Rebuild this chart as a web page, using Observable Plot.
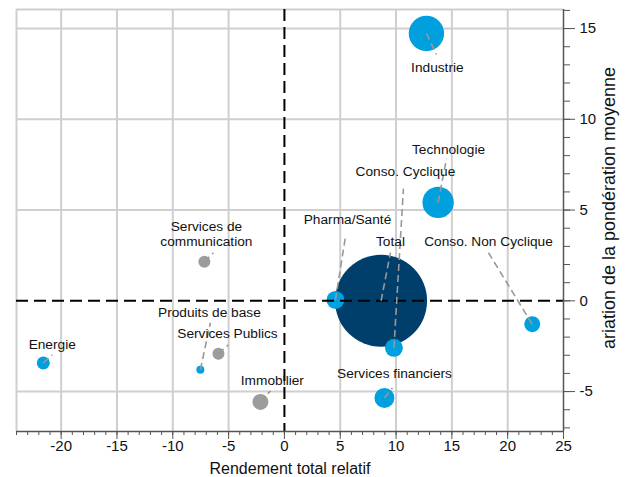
<!DOCTYPE html>
<html>
<head>
<meta charset="utf-8">
<script src="https://cdn.jsdelivr.net/npm/d3@7"></script>
<script src="https://cdn.jsdelivr.net/npm/@observablehq/plot@0.6"></script>
<style>
  html, body { margin: 0; padding: 0; background: #fff; }
  #chart svg { display: block; }
</style>
</head>
<body>
<div id="chart"></div>
<script>
// ---- Data ----
const sectors = ["Total", "Industrie", "Technologie", "Conso. Cyclique", "Pharma/Santé",
  "Conso. Non Cyclique", "Services financiers", "Services de\ncommunication",
  "Produits de base", "Services Publics", "Energie", "Immobilier"];
const rendement = [8.66, 12.72, 13.77, 9.81, 4.57, 22.2, 8.96, -7.17, -7.53, -5.91, -21.6, -2.15];
const variation = [0, 14.73, 5.42, -2.59, 0.05, -1.29, -5.35, 2.15, -3.8, -2.92, -3.42, -5.57];
const poids = [100, 14.8, 11.6, 3.8, 3.8, 3.0, 4.7, 1.7, 0.76, 1.7, 2.0, 3.0];
const groupe = ["total", "bleu", "bleu", "bleu", "bleu", "bleu", "bleu", "gris", "bleu", "gris", "bleu", "gris"];
// label anchor positions (data units)
const labelX = [9.5, 13.7, 14.7, 10.84, 5.65, 18.28, 9.86, -6.99, -6.72, -5.1, -20.8, -1.08];
const labelY = [3.31, 12.85, 8.38, 7.17, 4.52, 3.31, -3.97, 3.7, -0.61, -1.76, -2.37, -4.36];
// leader line ends near the labels (data units)
const leaderX = [9.5, 13.62, 14.52, 10.66, 5.47, 18.28, 9.68, -6.36, -6.63, -5.02, -20.79, -1.25];
const leaderY = [2.65, 13.57, 7.83, 6.18, 3.53, 2.65, -4.8, 2.65, -1.21, -2.43, -2.98, -4.96];

const xTitle = "Rendement total relatif";
const yTitle = "ariation de la pondération moyenne";

const xDomain = [-24, 25];
const yDomain = [-7.2, 16.05];
const xMajor = [-20, -15, -10, -5, 0, 5, 10, 15, 20, 25];
const yMajor = [-5, 0, 5, 10, 15];
const xGrid = [-20, -15, -10, -5, 5, 10, 15, 20];
const yGrid = [-5, 5, 10, 15];
const xMinor = d3.range(-24, 26, 1);
const yMinor = d3.range(-7, 17, 1);

const data = sectors.map((s, i) => ({
  secteur: s, rendement: rendement[i], variation: variation[i], poids: poids[i],
  groupe: groupe[i], lx: labelX[i], ly: labelY[i], ex: leaderX[i], ey: leaderY[i]
}));

const font = "'Liberation Sans', Arial, Helvetica, sans-serif";
const axisColor = "#555";

const W = 627, H = 477, mL = 16, mR = 64, mT = 9, mB = 46;

const chart = Plot.plot({
  width: W,
  height: H,
  marginLeft: mL,
  marginRight: mR,
  marginTop: mT,
  marginBottom: mB,
  style: { fontFamily: font, background: "#fff", overflow: "visible" },
  x: { domain: xDomain, axis: null },
  y: { domain: yDomain, axis: null },
  r: { type: "sqrt", domain: [0, 100], range: [0, 46] },
  color: { domain: ["total", "bleu", "gris"], range: ["#003F6B", "#00A0DF", "#9C9C9C"] },
  marks: [
    // grid
    Plot.ruleX(xGrid, { stroke: "#cfcfcf", strokeWidth: 2 }),
    Plot.ruleY(yGrid, { stroke: "#cfcfcf", strokeWidth: 2 }),
    // frame top/left
    Plot.ruleY([yDomain[1]], { stroke: "#cfcfcf", strokeWidth: 2 }),
    Plot.ruleX([xDomain[0]], { stroke: "#cfcfcf", strokeWidth: 2 }),
    // bubbles
    Plot.dot(data, { x: "rendement", y: "variation", r: "poids", fill: "groupe", stroke: "none" }),
    // zero lines
    Plot.ruleX([0], { stroke: "#000", strokeWidth: 2, strokeDasharray: "12,6" }),
    Plot.ruleY([0], { stroke: "#000", strokeWidth: 2, strokeDasharray: "12,6" }),
    // leader lines
    Plot.link(data, { x1: "rendement", y1: "variation", x2: "ex", y2: "ey",
      stroke: "#999", strokeWidth: 1.6, strokeDasharray: "7,4" }),
    // labels
    Plot.text(data, { x: "lx", y: "ly", text: "secteur", fontSize: 13.7, fill: "#111",
      lineAnchor: "middle", lineHeight: 1.1 }),
    // axis lines
    Plot.ruleY([yDomain[0]], { stroke: axisColor, strokeWidth: 1.5 }),
    Plot.ruleX([xDomain[1]], { stroke: axisColor, strokeWidth: 1.5 }),
    // x axis
    Plot.axisX(xMinor, { tickSize: 4, tickFormat: () => "", stroke: axisColor, label: null }),
    Plot.axisX(xMajor, { tickSize: 8, tickPadding: 1, tickFormat: d => String(d), fontSize: 15,
      stroke: axisColor, fill: "#111", label: null }),
    // y axis (right)
    Plot.axisY(yMinor, { anchor: "right", tickSize: 6, tickFormat: () => "", stroke: axisColor, label: null }),
    Plot.axisY(yMajor, { anchor: "right", tickSize: 11, tickPadding: 5, tickFormat: d => String(d),
      fontSize: 15, stroke: axisColor, fill: "#111", label: null }),
    // x axis title
    Plot.text([xTitle], { frameAnchor: "bottom", dy: 37, fontSize: 16,
      fill: "#111", lineAnchor: "middle" })
  ]
});

// y axis title (rotated, right side)
d3.select(chart).append("text")
  .attr("transform", `translate(${W - mR + 46},${(mT + H - mB) / 2 - 12}) rotate(-90)`)
  .attr("text-anchor", "middle")
  .attr("dominant-baseline", "central")
  .attr("font-family", font)
  .attr("font-size", 18)
  .attr("fill", "#111")
  .text(yTitle);

document.getElementById("chart").appendChild(chart);
</script>
</body>
</html>
